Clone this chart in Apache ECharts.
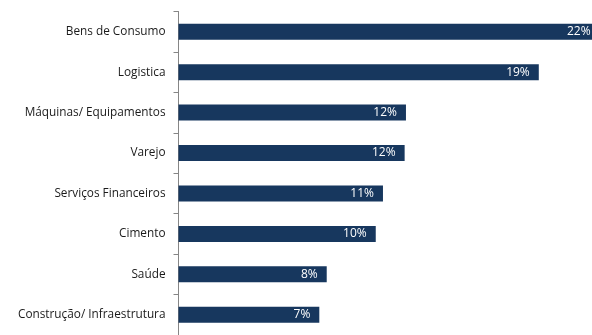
<!DOCTYPE html>
<html>
<head>
<meta charset="utf-8">
<script src="https://cdn.jsdelivr.net/npm/echarts@6/dist/echarts.min.js"></script>
<style>html,body{margin:0;padding:0;background:#fff}#c{width:592px;height:335px}</style>
</head>
<body>
<div id="c"></div>
<script>
const categories = ['Bens de Consumo','Logistica','Máquinas/ Equipamentos','Varejo','Serviços Financeiros','Cimento','Saúde','Construção/ Infraestrutura'];
const values = [22.16, 18.96, 11.97, 11.9, 10.76, 10.38, 7.8, 7.41];
const valueLabels = ['22%','19%','12%','12%','11%','10%','8%','7%'];

const chart = echarts.init(document.getElementById('c'));
chart.setOption({
  animation: false,
  grid: {left: 178.5, top: 11.5, right: 0, height: 328, containLabel: false},
  xAxis: {type: 'value', min: 0, max: 21.76, show: false},
  yAxis: {
    type: 'category', data: categories, inverse: true,
    axisLine: {show: true, lineStyle: {color: '#868686', width: 1}},
    axisTick: {show: true, length: 5, lineStyle: {color: '#868686'}},
    axisLabel: {color: '#1a1a1a', fontFamily: 'Open Sans', fontSize: 11.8, margin: 13},
    splitLine: {show: false}
  },
  series: [{
    type: 'bar', data: values, barWidth: 16, clip: false,
    itemStyle: {color: '#17375E'},
    label: {show: true, position: 'insideRight', distance: 9, color: '#fff', fontFamily: 'Open Sans', fontSize: 12,
      formatter: p => valueLabels[p.dataIndex]}
  }]
});
</script>
</body>
</html>
